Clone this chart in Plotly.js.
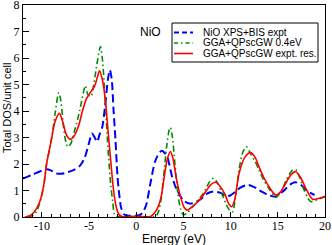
<!DOCTYPE html>
<html>
<head>
<meta charset="utf-8">
<script src="https://cdn.plot.ly/plotly-3.0.1.min.js"></script>
<style>html,body{margin:0;padding:0;background:#fff}#chart{width:332px;height:245px}</style>
</head>
<body>
<div id="chart"></div>
<script>
const exptE = [-12,-11,-10,-9.5,-9,-8.5,-8,-7.5,-7,-6.5,-6,-5.5,-5,-4.7,-4.4,-4.15,-3.9,-3.6,-3.3,-3.0,-2.8,-2.6,-2.4,-2.2,-2.0,-1.85,-1.6,-1.3,-1,0,0.5,1.0,1.5,2.0,2.5,2.75,3.0,3.3,3.8,4.2,4.7,5.0,5.5,6.0,6.5,7.0,7.5,8.0,8.5,9.0,9.5,10,10.5,11,11.8,12.5,13,13.5,14,14.8,15.5,16,16.5,16.9,17.5,18,18.5,18.9];
const exptDOS = [1.45,1.6,1.75,1.8,1.75,1.65,1.63,1.66,1.72,1.8,1.92,2.2,2.8,3.15,3.0,2.84,3.1,3.4,4.2,5.2,5.55,5.2,4.0,2.9,1.6,1.0,0.35,0.1,0.06,0.05,0.1,0.4,1.27,2.1,2.45,2.5,2.42,2.25,1.52,1.1,0.77,0.62,0.52,0.52,0.6,0.72,0.88,0.95,0.95,0.9,0.78,0.82,0.95,1.1,1.21,1.13,1.02,0.92,0.83,0.77,0.95,1.12,1.27,1.31,1.2,1.02,0.9,0.83];

const gw04E = [-11.5,-11,-10.6,-10.2,-9.8,-9.5,-9.0,-8.6,-8.3,-8.2,-8.0,-7.7,-7.4,-7.2,-6.9,-6.5,-6.0,-5.6,-5.4,-5.1,-4.8,-4.5,-4.2,-3.9,-3.8,-3.6,-3.3,-3.0,-2.7,-2.5,-2.3,-2.0,0,2.0,2.3,2.6,2.9,3.2,3.5,3.62,3.8,4.1,4.4,4.7,5.0,5.4,6.0,6.6,7.2,7.8,8.2,8.6,9.0,9.5,9.9,10.2,10.5,10.9,11.3,11.67,12.1,12.6,13.0,13.5,14.1,14.8,15.4,15.9,16.5,16.9,17.3,17.8,18.2,18.5,19.0,19.5,20];
const gw04DOS = [0,0.05,0.2,0.55,1.2,2.0,2.9,3.9,4.6,4.69,4.4,3.4,2.75,2.65,2.8,3.3,4.0,4.7,4.95,4.6,4.55,5.0,5.7,6.3,6.43,6.0,4.5,2.6,1.2,0.6,0.1,0.02,0.02,0.02,0.15,0.6,1.52,2.6,3.3,3.38,3.1,2.0,0.9,0.3,0.08,0.15,0.4,0.65,0.95,1.35,1.46,1.3,0.95,0.5,0.25,0.2,0.7,1.8,2.45,2.65,2.4,2.1,1.77,1.4,1.05,0.75,1.0,1.4,1.75,1.79,1.5,1.0,0.7,0.58,0.62,0.7,0.77];

const gwResE = [-11.8,-11.3,-11,-10.6,-10.2,-9.8,-9.5,-9.0,-8.6,-8.15,-7.8,-7.4,-7.0,-6.6,-6.1,-5.7,-5.3,-4.8,-4.4,-4.1,-3.9,-3.6,-3.3,-3.0,-2.7,-2.4,-2.1,-1.8,-1.5,0,1.5,1.8,2.2,2.6,3.0,3.3,3.62,3.9,4.2,4.7,5.1,5.4,5.8,6.3,6.8,7.4,7.9,8.4,8.9,9.4,9.8,10.1,10.4,10.9,11.5,12.1,12.6,13.0,13.5,14.07,14.78,15.3,15.84,16.4,16.9,17.4,17.97,18.68,19.3,20];
const gwResDOS = [0,0.05,0.12,0.3,0.6,1.2,2.0,2.9,3.6,3.91,3.6,3.1,2.93,3.05,3.45,4.0,4.45,4.73,4.95,5.3,5.52,5.2,4.5,3.3,2.1,1.0,0.35,0.08,0.02,0.02,0.02,0.1,0.3,0.7,1.6,2.2,2.47,2.2,1.55,0.75,0.35,0.26,0.35,0.5,0.68,0.98,1.22,1.31,1.15,0.85,0.5,0.39,0.6,1.65,2.25,2.43,2.25,1.9,1.5,1.14,0.83,0.95,1.27,1.6,1.71,1.5,1.08,0.67,0.7,0.77];

const seriesNames = ['NiO XPS+BIS expt','GGA+QPscGW 0.4eV','GGA+QPscGW expt. res.'];
const xTickVals = [-10,-5,0,5,10,15,20];
const yTickVals = [0,1,2,3,4,5,6,7,8];

const colors = ['#0000ff','#008c00','#ff0000'];
const widths = [2,1.6,1.6];
const dashes = ['8px,4px','6px,3px,1.5px,3px','solid'];
const datasets = [[exptE,exptDOS],[gw04E,gw04DOS],[gwResE,gwResDOS]];

const traces = datasets.map((d,i)=>({
  x:d[0], y:d[1], name:seriesNames[i], mode:'lines', showlegend:false,
  line:{color:colors[i], width:widths[i], dash:dashes[i], shape:'spline', smoothing:0.8}
}));

const sansFont = 'Liberation Sans, Arial, sans-serif';
const serifFont = 'Liberation Serif, Times New Roman, serif';

// plot area: x 23..325, y 5..217 px (302 x 212)
const PW = 302, PH = 212;
const px2x = p => (p-23)/PW;
const py2y = p => (217-p)/PH;

// manual legend (box + samples + labels)
const legBox = {x0:px2x(172), x1:px2x(318), y0:py2y(62), y1:py2y(23)};
const rowY = [32.5, 43, 53.5];
const shapes = [{type:'rect', xref:'paper', yref:'paper', x0:legBox.x0, x1:legBox.x1, y0:legBox.y0, y1:legBox.y1,
                 line:{color:'#000', width:1}, fillcolor:'#fff', layer:'above'}];
const annotations = [];
rowY.forEach((ry,i)=>{
  shapes.push({type:'line', xref:'paper', yref:'paper', x0:px2x(174), x1:px2x(193), y0:py2y(ry), y1:py2y(ry),
               line:{color:colors[i], width:widths[i], dash:i===0?'5px,3px':(i===1?'4px,3px,1.5px,3px':'solid')}, layer:'above'});
  annotations.push({text:seriesNames[i], xref:'paper', yref:'paper', x:px2x(201), y:py2y(ry), xanchor:'left', yanchor:'middle',
                    showarrow:false, font:{family:sansFont, size:10, color:'#000'}});
});
annotations.push({text:'NiO', xref:'paper', yref:'paper', x:px2x(150), y:py2y(32), xanchor:'center', yanchor:'middle', showarrow:false,
                  font:{family:sansFont, size:12, color:'#000'}});
annotations.push({text:'Energy (eV)', xref:'paper', yref:'paper', x:px2x(174), y:0, yshift:-22, xanchor:'center', yanchor:'middle', showarrow:false,
                  font:{family:sansFont, size:12, color:'#000'}});
annotations.push({text:'Total DOS/unit cell', xref:'paper', yref:'paper', x:0, xshift:-16, y:py2y(108), xanchor:'center', yanchor:'middle',
                  textangle:-90, showarrow:false, font:{family:sansFont, size:11, color:'#000'}});

const layout = {
  width:332, height:245,
  margin:{l:23, r:7, t:5, b:28},
  paper_bgcolor:'#fff', plot_bgcolor:'#fff',
  showlegend:false,
  xaxis:{range:[-12,20], automargin:false, tickmode:'array', tickvals:xTickVals, ticktext:xTickVals.map(String),
         ticks:'inside', ticklen:5, tickcolor:'#000', showgrid:false, zeroline:false, ticklabelstandoff:-2,
         showline:true, linecolor:'#000', linewidth:1, mirror:true, ticklabeloverflow:'allow',
         minor:{dtick:1, tick0:0, ticks:'inside', ticklen:3, tickcolor:'#000', showgrid:false},
         tickfont:{family:serifFont, size:12, color:'#000'}},
  yaxis:{range:[0,8], automargin:false, tickmode:'array', tickvals:yTickVals, ticktext:yTickVals.map(String),
         ticks:'inside', ticklen:6, tickcolor:'#000', showgrid:false, zeroline:false,
         showline:true, linecolor:'#000', linewidth:1, mirror:true, ticklabeloverflow:'allow',
         minor:{dtick:0.5, tick0:0, ticks:'inside', ticklen:3, tickcolor:'#000', showgrid:false},
         tickfont:{family:serifFont, size:12, color:'#000'}},
  shapes:shapes,
  annotations:annotations
};

Plotly.newPlot('chart', traces, layout, {displayModeBar:false, staticPlot:true});
</script>
</body>
</html>
